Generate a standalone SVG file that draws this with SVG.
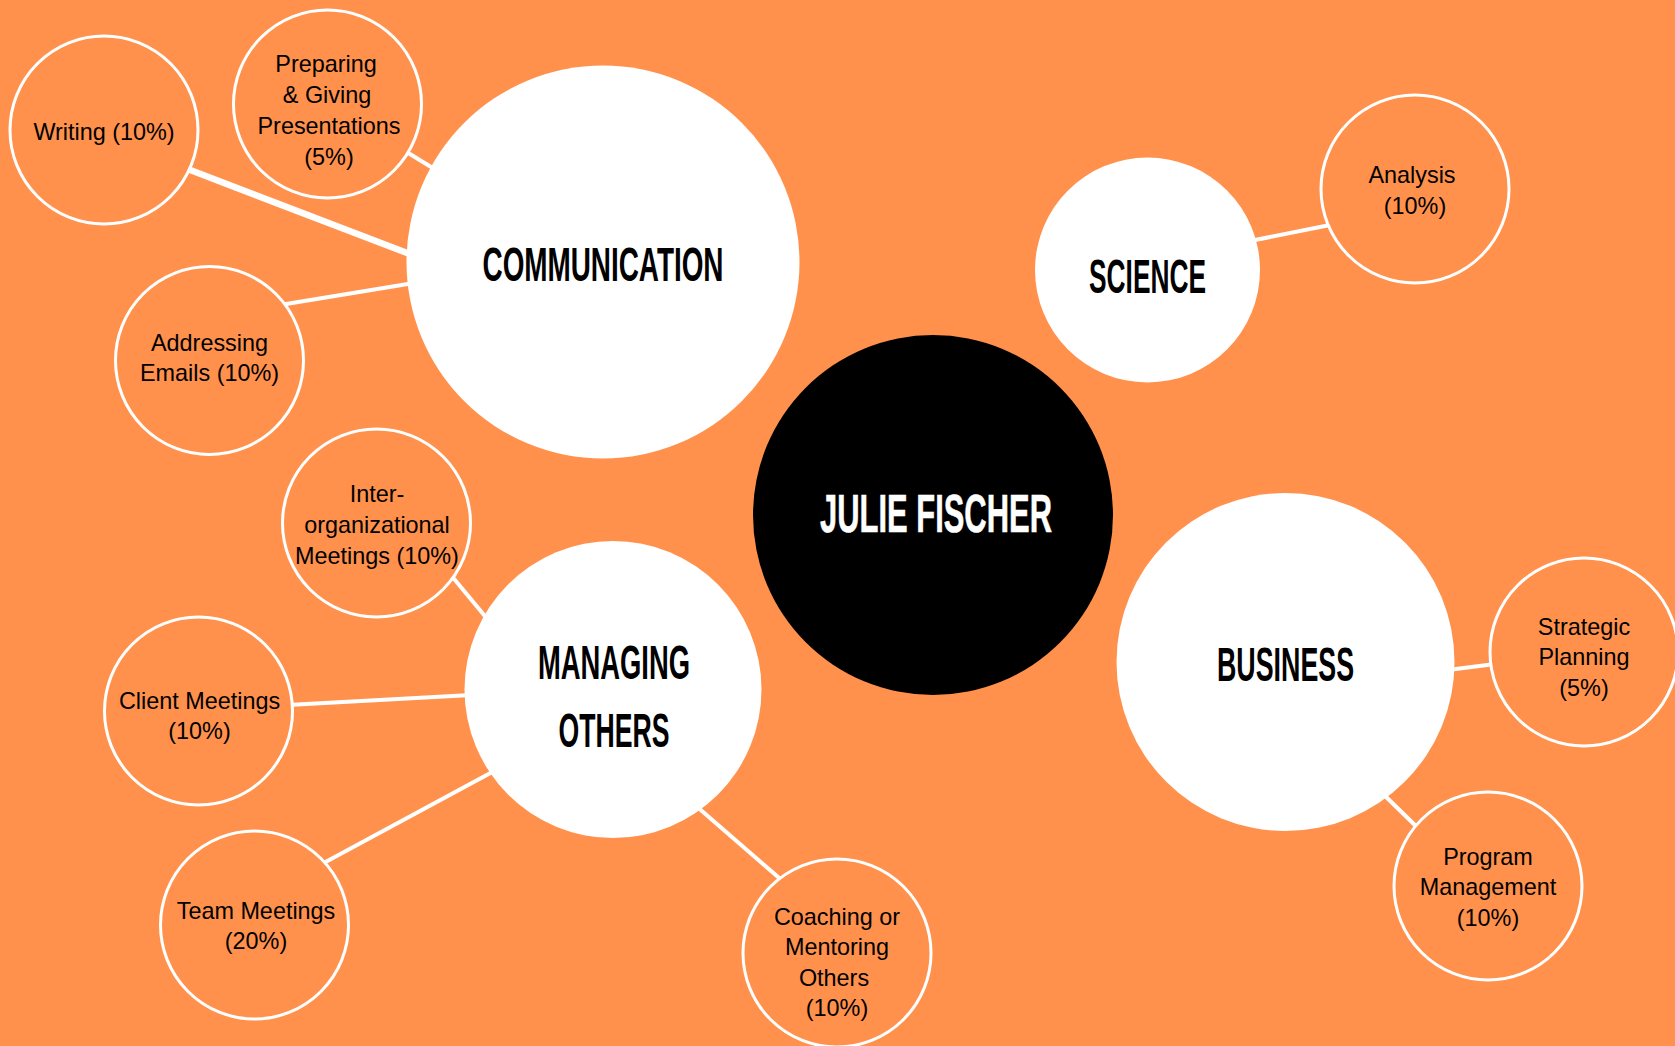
<svg xmlns="http://www.w3.org/2000/svg" width="1675" height="1046" viewBox="0 0 1675 1046">
<style>
.bg{fill:#FF914D}
.sub{fill:#FF914D;stroke:#FFFFFF;stroke-width:3}
.main{fill:#FFFFFF}
.hub{fill:#000000}
.conn{stroke:#FFFFFF;stroke-width:4;stroke-linecap:butt;fill:none}
.thick{stroke-width:6.5}
.lbl{font-family:"Liberation Sans",Arial,sans-serif;font-size:23.4px;fill:#000000;text-anchor:middle}
.ttl{font-family:"Liberation Sans",Arial,sans-serif;font-weight:bold;font-size:48px;fill:#000000;text-anchor:middle}
.hubt{font-family:"Liberation Sans",Arial,sans-serif;font-weight:bold;font-size:54px;fill:#FFFFFF;stroke:#FFFFFF;stroke-width:0.6;text-anchor:middle}
</style>
<rect class="bg" x="0" y="0" width="1675" height="1046"/>
<g id="connectors">
<line class="conn thick" x1="185" y1="168" x2="415" y2="256"/>
<line class="conn" x1="405" y1="151" x2="436" y2="170"/>
<line class="conn" x1="280" y1="305" x2="414" y2="283"/>
<line class="conn" x1="1250" y1="241" x2="1330" y2="225"/>
<line class="conn" x1="1448" y1="670" x2="1495" y2="664"/>
<line class="conn" x1="1382" y1="793" x2="1420" y2="830"/>
<line class="conn" x1="450" y1="574" x2="489" y2="621"/>
<line class="conn" x1="288" y1="705" x2="471" y2="695"/>
<line class="conn" x1="320" y1="865" x2="496" y2="770"/>
<line class="conn" x1="695" y1="805" x2="785" y2="883"/>
</g>
<g id="writing"><circle class="sub" cx="104" cy="130" r="94"/><text class="lbl" x="104" y="140">Writing (10%)</text></g>
<g id="preparing"><circle class="sub" cx="327.5" cy="104" r="94"/><text class="lbl" x="326" y="72">Preparing</text><text class="lbl" x="327" y="103">&amp; Giving</text><text class="lbl" x="329" y="134">Presentations</text><text class="lbl" x="329" y="165">(5%)</text></g>
<g id="addressing"><circle class="sub" cx="209.5" cy="360.5" r="94"/><text class="lbl" x="209.5" y="351">Addressing</text><text class="lbl" x="209.5" y="381">Emails (10%)</text></g>
<g id="communication"><circle class="main" cx="603" cy="262" r="196.5"/><text class="ttl" x="603" y="281" textLength="241" lengthAdjust="spacingAndGlyphs">COMMUNICATION</text></g>
<g id="science"><circle class="main" cx="1147.5" cy="270" r="112.5"/><text class="ttl" x="1147.5" y="293" textLength="117" lengthAdjust="spacingAndGlyphs">SCIENCE</text></g>
<g id="analysis"><circle class="sub" cx="1415" cy="189" r="94"/><text class="lbl" x="1412" y="183">Analysis</text><text class="lbl" x="1415" y="214">(10%)</text></g>
<g id="julie-fischer"><circle class="hub" cx="933" cy="515" r="180"/><text class="hubt" x="936" y="532" textLength="232" lengthAdjust="spacingAndGlyphs">JULIE FISCHER</text></g>
<g id="business"><circle class="main" cx="1285.5" cy="662" r="169"/><text class="ttl" x="1285.5" y="681" textLength="137" lengthAdjust="spacingAndGlyphs">BUSINESS</text></g>
<g id="strategic"><circle class="sub" cx="1584" cy="652" r="94"/><text class="lbl" x="1584" y="635">Strategic</text><text class="lbl" x="1584" y="665">Planning</text><text class="lbl" x="1584" y="696">(5%)</text></g>
<g id="program"><circle class="sub" cx="1488" cy="886" r="94"/><text class="lbl" x="1488" y="865">Program</text><text class="lbl" x="1488" y="895">Management</text><text class="lbl" x="1488" y="926">(10%)</text></g>
<g id="managing-others"><circle class="main" cx="613" cy="689.5" r="148.5"/><text class="ttl" x="614" y="679" textLength="152" lengthAdjust="spacingAndGlyphs">MANAGING</text><text class="ttl" x="614" y="746.5" textLength="111" lengthAdjust="spacingAndGlyphs">OTHERS</text></g>
<g id="inter-organizational"><circle class="sub" cx="376.5" cy="523" r="94"/><text class="lbl" x="377" y="502">Inter-</text><text class="lbl" x="377" y="533">organizational</text><text class="lbl" x="377" y="564">Meetings (10%)</text></g>
<g id="client"><circle class="sub" cx="198.5" cy="711" r="94"/><text class="lbl" x="199.5" y="708.5">Client Meetings</text><text class="lbl" x="199.5" y="739">(10%)</text></g>
<g id="team"><circle class="sub" cx="254.5" cy="925" r="94"/><text class="lbl" x="256" y="918.5">Team Meetings</text><text class="lbl" x="256" y="949">(20%)</text></g>
<g id="coaching"><circle class="sub" cx="837" cy="953" r="94"/><text class="lbl" x="837" y="924.5">Coaching or</text><text class="lbl" x="837" y="954.5">Mentoring</text><text class="lbl" x="834" y="985.5">Others</text><text class="lbl" x="837" y="1015.5">(10%)</text></g>
</svg>
